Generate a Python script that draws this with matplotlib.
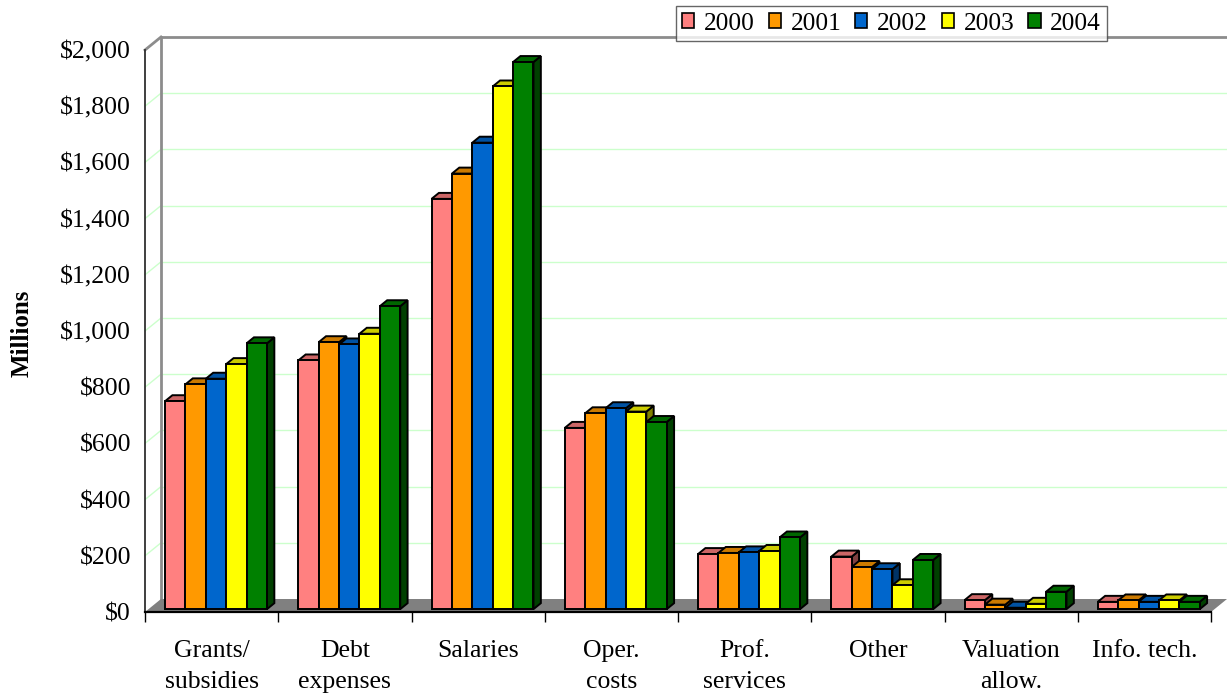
import matplotlib
matplotlib.use("Agg")
import matplotlib.pyplot as plt
from matplotlib.patches import Polygon, Rectangle, Patch
from matplotlib.ticker import FixedLocator
import numpy as np

plt.rcParams["font.family"] = ["Liberation Serif", "DejaVu Serif"]

# ---- data (millions of dollars) ----
categories = ["Grants/\nsubsidies", "Debt\nexpenses", "Salaries", "Oper.\ncosts",
              "Prof.\nservices", "Other", "Valuation\nallow.", "Info. tech."]
years = ["2000", "2001", "2002", "2003", "2004"]
v2000 = [740, 885, 1460, 645, 196, 187, 32, 26]
v2001 = [800, 950, 1550, 697, 200, 150, 16, 31]
v2002 = [820, 942, 1660, 715, 202, 142, 5, 26]
v2003 = [872, 980, 1860, 703, 207, 85, 19, 31]
v2004 = [946, 1078, 1947, 666, 255, 175, 62, 26]
series = [v2000, v2001, v2002, v2003, v2004]
y_ticks = list(range(0, 2001, 200))

colors = ["#FF8080", "#FF9900", "#0066CC", "#FFFF00", "#008000"]


def shade(c, k):
    r, g, b = matplotlib.colors.to_rgb(c)
    return (r * k, g * k, b * k)


W_PX, H_PX, DPI = 1227, 696, 100
fig = plt.figure(figsize=(W_PX / DPI, H_PX / DPI), dpi=DPI)

# front plane: x 145..1227 px, y 612..36 px
x_unit = 133.25          # pixels per category
y_unit = 562.0 / 2000.0  # pixels per million
left_px, bottom_px, right_px, top_px = 145, 612, 1227, 36
ax = fig.add_axes([left_px / W_PX, 1 - bottom_px / H_PX,
                   (right_px - left_px) / W_PX, (bottom_px - top_px) / H_PX])
ax.set_xlim(0, (right_px - left_px) / x_unit)
ax.set_ylim(0, (bottom_px - top_px) / y_unit)
xmax = ax.get_xlim()[1]

# depth of the plot box (oblique projection), in data units
DX = 16 / x_unit
DY = 13 / y_unit
n = len(categories)
vmax = 2000

for s in ax.spines.values():
    s.set_visible(False)

# floor
ax.add_patch(Polygon([(0, 0), (n, 0), (n + DX, DY), (DX, DY)], closed=True,
                     facecolor="#808080", edgecolor="none", zorder=1, clip_on=False))

# gridlines on back wall and side wall
grid_c = "#CCFFCC"
for v in y_ticks[1:-1]:
    ax.plot([DX, xmax], [v + DY, v + DY], color=grid_c, lw=1.0, zorder=0.5, clip_on=False)
    ax.plot([0, DX], [v, v + DY], color=grid_c, lw=1.0, zorder=0.5, clip_on=False)

# wall edges
wall_c = "#8C8C8C"
ax.plot([DX, DX], [DY, vmax + DY], color=wall_c, lw=2.0, zorder=0.8, clip_on=False)
ax.plot([DX, xmax], [vmax + DY, vmax + DY], color=wall_c, lw=2.0, zorder=0.8, clip_on=False)
ax.plot([0, DX], [vmax, vmax + DY], color=wall_c, lw=2.0, zorder=0.8, clip_on=False)
ax.plot([0, 0], [0, vmax], color="#303030", lw=1.3, zorder=0.9, clip_on=False)

# bars
bar_w = 0.153
f_front = 0.22
bar_depth = 0.46
xoff, yoff = f_front * DX, f_front * DY
bdx, bdy = bar_depth * DX, bar_depth * DY
lw = 1.4
z = 2
for i in range(n):
    for k, vals in enumerate(series):
        v = vals[i]
        x0 = i + 0.124 + k * bar_w + xoff
        y0 = yoff
        y1 = yoff + v
        c = colors[k]
        front = Rectangle((x0, y0), bar_w, v, facecolor=c, edgecolor="black",
                          lw=lw, zorder=z, joinstyle="miter")
        top = Polygon([(x0, y1), (x0 + bar_w, y1), (x0 + bar_w + bdx, y1 + bdy),
                       (x0 + bdx, y1 + bdy)], closed=True, facecolor=shade(c, 0.8),
                      edgecolor="black", lw=lw, zorder=z, joinstyle="miter")
        side = Polygon([(x0 + bar_w, y0), (x0 + bar_w + bdx, y0 + bdy),
                        (x0 + bar_w + bdx, y1 + bdy), (x0 + bar_w, y1)], closed=True,
                       facecolor=shade(c, 0.5), edgecolor="black", lw=lw, zorder=z,
                       joinstyle="miter")
        ax.add_patch(side)
        ax.add_patch(top)
        ax.add_patch(front)
        z += 0.01

# category axis
ax.plot([0, n], [0, 0], color="black", lw=1.6, zorder=5, clip_on=False)
ax.set_xticks([i + 0.5 for i in range(n)])
ax.set_xticklabels(categories, fontsize=18.5, linespacing=1.55)
ax.tick_params(axis="x", which="major", length=0, pad=20)
ax.xaxis.set_minor_locator(FixedLocator(list(range(n + 1))))
ax.tick_params(axis="x", which="minor", length=7, width=1.0, color="black", direction="out")

# value axis labels (front plane)
ax.set_yticks(y_ticks)
ax.set_yticklabels([f"${v:,}" for v in y_ticks], fontsize=18.5)
ax.tick_params(axis="y", length=0, pad=10)

fig.text(22 / W_PX, 1 - 333 / H_PX, "Millions", rotation=90, fontsize=18,
         fontweight="bold", ha="center", va="center")

# legend
handles = [Patch(facecolor=c, edgecolor="black", lw=1.2) for c in colors]
leg = fig.legend(handles, years, ncol=5, loc="center",
                 bbox_to_anchor=(891.5 / W_PX, 1 - 23.5 / H_PX),
                 fontsize=18.3, frameon=True, fancybox=False,
                 handlelength=0.48, handleheight=0.48, handletextpad=0.38,
                 columnspacing=0.55, borderpad=0.25)
leg.get_frame().set_edgecolor("#404040")
leg.get_frame().set_linewidth(1.0)
leg.set_zorder(10)

fig.savefig("out.png", dpi=DPI)
